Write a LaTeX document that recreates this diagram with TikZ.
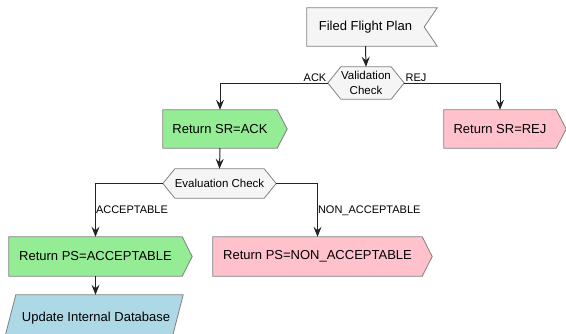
\documentclass[tikz,border=0pt]{standalone}
\usepackage{fontspec}
\setmainfont{Liberation Sans}
\usetikzlibrary{arrows.meta,backgrounds}

\definecolor{boxgray}{RGB}{245,245,245}
\definecolor{edgegray}{RGB}{128,128,128}
\definecolor{okgreen}{RGB}{148,236,148}
\definecolor{nopink}{RGB}{255,194,204}
\definecolor{dbblue}{RGB}{173,216,230}
\definecolor{wire}{RGB}{35,35,35}

\begin{document}
\begin{tikzpicture}[x=1pt,y=-1pt,
  txt/.style={draw=none, inner sep=0pt, align=center,
    font=\fontsize{13}{15}\selectfont},
  dectxt/.style={txt, font=\fontsize{11.5}{15}\selectfont},
  outline/.style={draw=edgegray, line width=0.8pt, line join=miter},
  conn/.style={draw=wire, line width=1pt,
    -{Stealth[length=10pt,width=8pt,inset=3.5pt]}},
  lbl/.style={inner sep=1pt, font=\fontsize{11}{13}\selectfont, text depth=0pt}]

\useasboundingbox (0,0) rectangle (566,333);
\clip (0,0) rectangle (566,333);

% text bodies of the flowchart steps
\node[txt, minimum width=117pt, minimum height=38pt] (ffp) at (365.5,27) {Filed Flight Plan};
\node[dectxt, minimum width=76pt, minimum height=32pt] (val) at (366,83) {Validation\\Check};
\node[txt, minimum width=114pt, minimum height=38pt] (srack) at (220,129) {Return SR=ACK};
\node[txt, minimum width=112pt, minimum height=38pt] (srrej) at (500,129) {Return SR=REJ};
\node[dectxt, minimum width=113pt, minimum height=29pt] (eval) at (219.5,183.5) {Evaluation Check};
\node[txt, minimum width=173pt, minimum height=39pt] (psacc) at (95.5,256.5) {Return PS=ACCEPTABLE};
\node[txt, minimum width=209pt, minimum height=39pt] (psnon) at (317.5,256.5) {Return PS=NON\_ACCEPTABLE};
\node[txt, minimum width=167pt, minimum height=46pt] (upd) at (96,318) {Update Internal Database};

% shape outlines behind the texts
\begin{pgfonlayer}{background}
  % start: flag with a notch on the right
  \path[outline, fill=boxgray] (ffp.north west) -- ([xshift=13pt]ffp.north east)
    -- (ffp.east) -- ([xshift=13pt]ffp.south east) -- (ffp.south west) -- cycle;
  % decisions: hexagons
  \path[outline, fill=boxgray] ([xshift=13pt]val.north west) -- ([xshift=-13pt]val.north east)
    -- (val.east) -- ([xshift=-13pt]val.south east) -- ([xshift=13pt]val.south west)
    -- (val.west) -- cycle;
  \path[outline, fill=boxgray] ([xshift=12pt]eval.north west) -- ([xshift=-12pt]eval.north east)
    -- (eval.east) -- ([xshift=-12pt]eval.south east) -- ([xshift=12pt]eval.south west)
    -- (eval.west) -- cycle;
  % results: pointed on the right
  \path[outline, fill=okgreen] (srack.north west) -- (srack.north east)
    -- ([xshift=10pt]srack.east) -- (srack.south east) -- (srack.south west) -- cycle;
  \path[outline, fill=nopink] (srrej.north west) -- (srrej.north east)
    -- ([xshift=10pt]srrej.east) -- (srrej.south east) -- (srrej.south west) -- cycle;
  \path[outline, fill=okgreen] (psacc.north west) -- (psacc.north east)
    -- ([xshift=10pt]psacc.east) -- (psacc.south east) -- (psacc.south west) -- cycle;
  \path[outline, fill=nopink] (psnon.north west) -- (psnon.north east)
    -- ([xshift=10pt]psnon.east) -- (psnon.south east) -- (psnon.south west) -- cycle;
  % data step: parallelogram
  \path[outline, fill=dbblue] ([xshift=3.5pt]upd.north west) -- ([xshift=3.5pt]upd.north east)
    -- ([xshift=-8.5pt]upd.south east) -- ([xshift=-8.5pt]upd.south west) -- cycle;
\end{pgfonlayer}

% connectors
\draw[conn] (ffp.south) -- (val.north);
\draw[conn] (val.west) node[lbl, anchor=south east] {ACK} -| (srack.north);
\draw[conn] (val.east) node[lbl, anchor=south west] {REJ} -| (srrej.north);
\draw[conn] (srack.south) -- (eval.north);
\draw[conn] (eval.west) -| node[pos=0.75, lbl, anchor=west, inner sep=0pt] {ACCEPTABLE} (psacc.north);
\draw[conn] (eval.east) -| node[pos=0.75, lbl, anchor=west, inner sep=0pt] {NON\_ACCEPTABLE} (psnon.north);
\draw[conn] (psacc.south) -- (psacc.south |- upd.north);

\end{tikzpicture}
\end{document}
